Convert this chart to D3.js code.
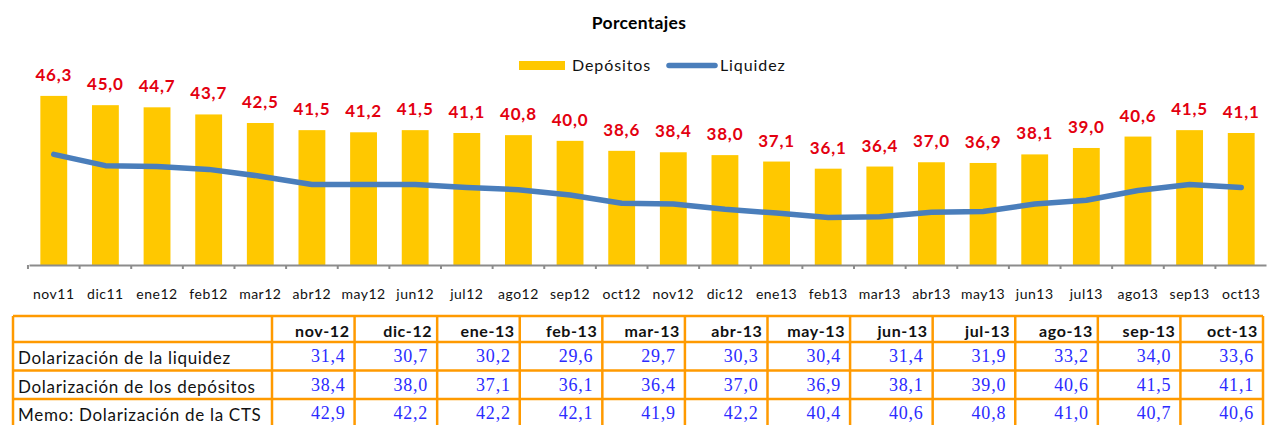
<!DOCTYPE html>
<html>
<head>
<meta charset="utf-8">
<script src="https://cdn.jsdelivr.net/npm/d3@7"></script>
<style>
  body { margin: 0; background: #fff; }
  svg { display: block; }
</style>
</head>
<body>
<div id="chart"></div>
<script>
// chart data
var months = ["nov11","dic11","ene12","feb12","mar12","abr12","may12","jun12","jul12","ago12","sep12","oct12",
              "nov12","dic12","ene13","feb13","mar13","abr13","may13","jun13","jul13","ago13","sep13","oct13"];
var depositos = [46.3,45.0,44.7,43.7,42.5,41.5,41.2,41.5,41.1,40.8,40.0,38.6,
                 38.4,38.0,37.1,36.1,36.4,37.0,36.9,38.1,39.0,40.6,41.5,41.1];
var liquidez = [38.0,36.5,36.4,36.0,35.1,34.0,34.0,34.0,33.6,33.3,32.6,31.5,
                31.4,30.7,30.2,29.6,29.7,30.3,30.4,31.4,31.9,33.2,34.0,33.6];

// table data
var tableCols = ["nov-12","dic-12","ene-13","feb-13","mar-13","abr-13","may-13","jun-13","jul-13","ago-13","sep-13","oct-13"];
var rowLabels = ["Dolarización de la liquidez","Dolarización de los depósitos","Memo: Dolarización de la CTS"];
var rowLiquidez = [31.4,30.7,30.2,29.6,29.7,30.3,30.4,31.4,31.9,33.2,34.0,33.6];
var rowDepositos = [38.4,38.0,37.1,36.1,36.4,37.0,36.9,38.1,39.0,40.6,41.5,41.1];
var rowCTS = [42.9,42.2,42.2,42.1,41.9,42.2,40.4,40.6,40.8,41.0,40.7,40.6];

var fmt = function(v) { return d3.format(".1f")(v).replace(".", ","); };

var svg = d3.select("#chart")
  .append("svg")
  .attr("width", 1268)
  .attr("height", 425);

// title
svg.append("text")
  .attr("x", 639).attr("y", 29)
  .attr("text-anchor", "middle")
  .style("font-family", "Lato").style("font-weight", "bold").style("font-size", "17.5px")
  .style("letter-spacing", "0.3px")
  .attr("fill", "#000")
  .text("Porcentajes");

// legend
svg.append("rect").attr("x", 519).attr("y", 61).attr("width", 46).attr("height", 9).attr("fill", "#FFC800");
svg.append("text").attr("x", 572).attr("y", 71)
  .style("font-family", "Lato").style("font-size", "16px").style("letter-spacing", "0.9px")
  .attr("fill", "#111").text("Depósitos");
svg.append("line").attr("x1", 669).attr("x2", 715).attr("y1", 65.5).attr("y2", 65.5)
  .attr("stroke", "#4A7EBB").attr("stroke-width", 5.5).attr("stroke-linecap", "round");
svg.append("text").attr("x", 720).attr("y", 71)
  .style("font-family", "Lato").style("font-size", "16px").style("letter-spacing", "0.9px")
  .attr("fill", "#111").text("Liquidez");

// scales
var x = d3.scaleBand()
  .domain(months)
  .range([29, 1266])
  .paddingInner(0.48)
  .paddingOuter(0.22);

var yBar = d3.scaleLinear().domain([22.6, 50]).range([265, 69.5]);
var yLine = d3.scaleLinear().domain([23.3, 50]).range([265, 64]);

// bars
svg.selectAll(".bar")
  .data(depositos)
  .enter()
  .append("rect")
  .attr("class", "bar")
  .attr("x", function(d, i) { return x(months[i]); })
  .attr("y", function(d) { return yBar(d); })
  .attr("width", x.bandwidth())
  .attr("height", function(d) { return 265 - yBar(d); })
  .attr("fill", "#FFC800");

// bar labels
svg.selectAll(".lbl")
  .data(depositos)
  .enter()
  .append("text")
  .attr("class", "lbl")
  .attr("x", function(d, i) { return x(months[i]) + x.bandwidth() / 2; })
  .attr("y", function(d) { return yBar(d) - 15; })
  .attr("text-anchor", "middle")
  .style("font-family", "Lato").style("font-weight", "bold").style("font-size", "17px")
  .style("letter-spacing", "0.8px")
  .attr("fill", "#E3000F")
  .text(function(d) { return fmt(d); });

// liquidity line
var line = d3.line()
  .x(function(d, i) { return x(months[i]) + x.bandwidth() / 2; })
  .y(function(d) { return yLine(d); });

svg.append("path")
  .datum(liquidez)
  .attr("d", line)
  .attr("fill", "none")
  .attr("stroke", "#4A7EBB")
  .attr("stroke-width", 5.5)
  .attr("stroke-linecap", "round")
  .attr("stroke-linejoin", "round");

// x axis
var xAxis = d3.axisBottom(x).tickSize(0).tickPadding(0);
var gx = svg.append("g")
  .attr("transform", "translate(0,265)")
  .call(xAxis);
gx.select(".domain").attr("stroke", "#8c8c8c").attr("stroke-width", 2);
gx.selectAll(".tick text")
  .attr("y", 34).attr("dy", null)
  .style("font-family", "Lato").style("font-size", "14px").style("letter-spacing", "0.5px")
  .attr("fill", "#111");
// tick marks on band boundaries
var bounds = months.map(function(m) { return x(m) - x.step() * x.paddingInner() / 2; });
gx.selectAll(".sep")
  .data(bounds)
  .enter()
  .append("line")
  .attr("x1", function(d) { return d; }).attr("x2", function(d) { return d; })
  .attr("y1", 0).attr("y2", 4)
  .attr("stroke", "#8c8c8c").attr("stroke-width", 2);

// table
var tLeft = 13, tFirst = 272, tRight = 1263;
var colW = (tRight - tFirst) / tableCols.length;
var rowY = [316, 342, 370.5, 399, 428];
var tableRows = [rowLiquidez, rowDepositos, rowCTS];
var orange = "#FF9A00";

var tg = svg.append("g");
// horizontal lines
tg.selectAll(".hl").data(rowY.slice(0, 4)).enter().append("line")
  .attr("x1", tLeft).attr("x2", tRight)
  .attr("y1", function(d) { return d; }).attr("y2", function(d) { return d; })
  .attr("stroke", orange).attr("stroke-width", 2.5);
// vertical lines
var vx = [tLeft, tFirst].concat(tableCols.map(function(c, i) { return tFirst + colW * (i + 1); }));
tg.selectAll(".vl").data(vx).enter().append("line")
  .attr("x1", function(d) { return d; }).attr("x2", function(d) { return d; })
  .attr("y1", rowY[0]).attr("y2", 425)
  .attr("stroke", orange).attr("stroke-width", 2.5);

// header
tg.selectAll(".hd").data(tableCols).enter().append("text")
  .attr("x", function(d, i) { return tFirst + colW * (i + 1) - 5; })
  .attr("y", 337)
  .attr("text-anchor", "end")
  .style("font-family", "Lato").style("font-weight", "bold").style("font-size", "16px")
  .style("letter-spacing", "0.6px")
  .attr("fill", "#111")
  .text(function(d) { return d; });

// row labels
tg.selectAll(".rl").data(rowLabels).enter().append("text")
  .attr("x", 18)
  .attr("y", function(d, i) { return rowY[i + 1] + 22; })
  .style("font-family", "Lato").style("font-size", "17px").style("letter-spacing", "0.7px")
  .attr("fill", "#111")
  .text(function(d) { return d; });

// values
tableRows.forEach(function(vals, r) {
  tg.selectAll(".v" + r).data(vals).enter().append("text")
    .attr("x", function(d, i) { return tFirst + colW * (i + 1) - 9; })
    .attr("y", rowY[r + 1] + 20)
    .attr("text-anchor", "end")
    .style("font-family", "Liberation Sans Narrow").style("font-size", "18px")
    .style("letter-spacing", "0.8px")
    .attr("fill", "#2B2BFF")
    .text(function(d) { return fmt(d); });
});
</script>
</body>
</html>
